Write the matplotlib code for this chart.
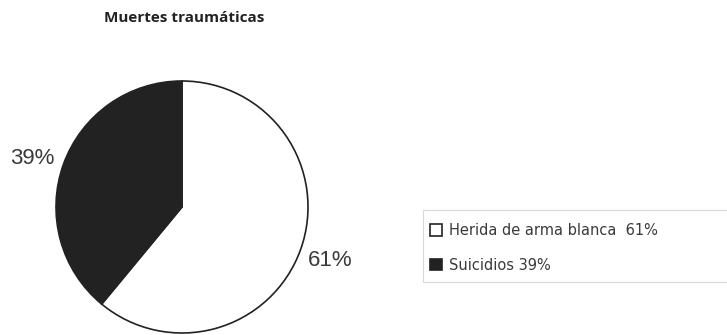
import matplotlib
matplotlib.use("Agg")
import matplotlib.pyplot as plt
from matplotlib.patches import Rectangle
from matplotlib.transforms import offset_copy

categorias = ["Herida de arma blanca  61%", "Suicidios 39%"]
valores = [61, 39]
colores = ["white", "#222222"]

W, H = 727, 335
fig = plt.figure(figsize=(W / 100, H / 100), dpi=100)
ax = fig.add_axes([56 / W, 2 / H, 252 / W, 252 / H])

wedges, textos, pcts = ax.pie(
    valores, colors=colores, startangle=90, counterclock=False,
    autopct="%.0f%%", pctdistance=1.25,
    wedgeprops=dict(edgecolor="#222222", linewidth=1.2),
    textprops=dict(fontsize=16, family="Liberation Sans", color="#3a3a3a"),
)
for w in wedges:
    w.set_clip_on(False)
# la etiqueta de la porcion negra queda un poco mas abajo
pcts[1].set_transform(offset_copy(ax.transData, fig=fig, x=-2, y=-5, units="dots"))
ax.set_xlim(-1, 1)
ax.set_ylim(-1, 1)
ax.set_aspect("equal")

fig.text(184 / W, 1 - 18 / H, "Muertes traumáticas", ha="center", va="center",
         fontsize=11, fontweight="bold", family="Open Sans", color="#222222")

# marco de la leyenda, se sale por la derecha
fig.patches.append(Rectangle((423 / W, 1 - 282 / H), 330 / W, 72 / H,
                             transform=fig.transFigure, facecolor="white",
                             edgecolor="#d8d8d8", linewidth=0.8))

leg = fig.legend(
    wedges, categorias, loc="upper left",
    bbox_to_anchor=(430 / W, 1 - 223 / H),
    frameon=False, borderpad=0, borderaxespad=0,
    labelspacing=1.35, handlelength=0.85, handleheight=0.85,
    handletextpad=0.45,
    prop=dict(family="DejaVu Sans", size=10.5),
)
for t in leg.get_texts():
    t.set_color("#3a3a3a")

fig.savefig("out.png", dpi=100)
